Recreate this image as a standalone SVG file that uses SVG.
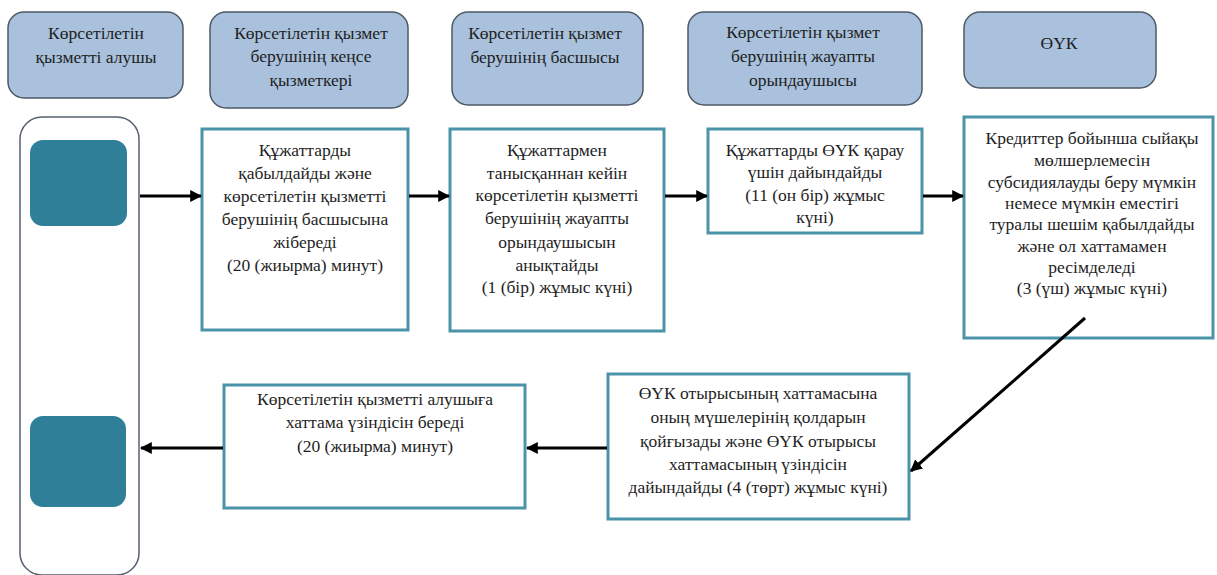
<svg xmlns="http://www.w3.org/2000/svg" width="1217" height="575" viewBox="0 0 1217 575">
<defs>
<marker id="ah" viewBox="0 0 10 10" refX="9" refY="5" markerWidth="4" markerHeight="4" orient="auto" markerUnits="strokeWidth">
<path d="M0,0 L10,5 L0,10 z" fill="#000"/>
</marker>
<style>
.hdr{fill:#a9c1dc;stroke:#4d5866;stroke-width:1.5}
.box{fill:#fff;stroke:#4a93a8;stroke-width:3}
.lane{fill:#fff;stroke:#556070;stroke-width:1.5}
.sq{fill:#2e7f97}
text{font-family:'Liberation Serif','Times New Roman',serif;font-size:17.5px;fill:#1e1e1e;text-anchor:middle}
.con{stroke:#000;stroke-width:3;fill:none;marker-end:url(#ah)}
</style>
</defs>
<rect width="1217" height="575" fill="#fff"/>
<g id="h1"><rect class="hdr" x="8" y="12" width="175" height="86" rx="16"/>
<text x="96" y="39">Көрсетілетін</text><text x="96" y="63">қызметті алушы</text></g>
<g id="h2"><rect class="hdr" x="210" y="12" width="198" height="96" rx="16"/>
<text x="311" y="39">Көрсетілетін қызмет</text><text x="311" y="62">берушінің кеңсе</text><text x="311" y="86">қызметкері</text></g>
<g id="h3"><rect class="hdr" x="452" y="12" width="191" height="93" rx="16"/>
<text x="545" y="39">Көрсетілетін қызмет</text><text x="545" y="63">берушінің басшысы</text></g>
<g id="h4"><rect class="hdr" x="688" y="12" width="234" height="93" rx="16"/>
<text x="803" y="38">Көрсетілетін қызмет</text><text x="803" y="62">берушінің жауапты</text><text x="803" y="86">орындаушысы</text></g>
<g id="h5"><rect class="hdr" x="964" y="12" width="192" height="76" rx="16"/>
<text x="1059" y="49">ӨҮК</text></g>
<g id="lane"><rect class="lane" x="20" y="117" width="119" height="458" rx="22"/>
<rect class="sq" x="30" y="140" width="97" height="86" rx="13"/>
<rect class="sq" x="30" y="416" width="96" height="91" rx="13"/></g>
<g id="b1"><rect class="box" x="202" y="129" width="206" height="201"/>
<text x="305" y="156">Құжаттарды</text><text x="305" y="179">қабылдайды және</text><text x="305" y="202">көрсетілетін қызметті</text><text x="305" y="225">берушінің басшысына</text><text x="305" y="248">жібереді</text><text x="305" y="271">(20 (жиырма) минут)</text></g>
<g id="b2"><rect class="box" x="450" y="129" width="214" height="202"/>
<text x="557" y="156">Құжаттармен</text><text x="557" y="179">танысқаннан кейін</text><text x="557" y="201">көрсетілетін қызметті</text><text x="557" y="224">берушінің жауапты</text><text x="557" y="248">орындаушысын</text><text x="557" y="271">анықтайды</text><text x="557" y="293">(1 (бір) жұмыс күні)</text></g>
<g id="b3"><rect class="box" x="708" y="129" width="214" height="104"/>
<text x="815" y="156">Құжаттарды ӨҮК қарау</text><text x="815" y="178">үшін дайындайды</text><text x="815" y="201">(11 (он бір) жұмыс</text><text x="815" y="223">күні)</text></g>
<g id="b4"><rect class="box" x="964" y="117" width="249" height="221"/>
<text x="1092" y="144">Кредиттер бойынша сыйақы</text><text x="1092" y="166">мөлшерлемесін</text><text x="1092" y="188">субсидиялауды беру мүмкін</text><text x="1092" y="209">немесе мүмкін еместігі</text><text x="1092" y="230">туралы шешім қабылдайды</text><text x="1092" y="252">және ол хаттамамен</text><text x="1092" y="273">ресімделеді</text><text x="1092" y="294">(3 (үш) жұмыс күні)</text></g>
<g id="b5"><rect class="box" x="608" y="374" width="301" height="145"/>
<text x="758" y="399">ӨҮК отырысының хаттамасына</text><text x="758" y="423">оның мүшелерінің қолдарын</text><text x="758" y="447">қойғызады және ӨҮК отырысы</text><text x="758" y="470">хаттамасының үзіндісін</text><text x="758" y="493">дайындайды (4 (төрт) жұмыс күні)</text></g>
<g id="b6"><rect class="box" x="224" y="385" width="301" height="123"/>
<text x="375" y="405">Көрсетілетін қызметті алушыға</text><text x="375" y="428">хаттама үзіндісін береді</text><text x="375" y="452">(20 (жиырма) минут)</text></g>
<g id="connectors">
<line class="con" x1="140" y1="196" x2="201" y2="196"/>
<line class="con" x1="409" y1="196" x2="449" y2="196"/>
<line class="con" x1="665" y1="196" x2="707" y2="196"/>
<line class="con" x1="923" y1="196" x2="963" y2="196"/>
<line class="con" x1="1085" y1="318" x2="911" y2="471"/>
<line class="con" x1="607" y1="448" x2="527" y2="448"/>
<line class="con" x1="223" y1="448" x2="141" y2="448"/>
</g>
</svg>
